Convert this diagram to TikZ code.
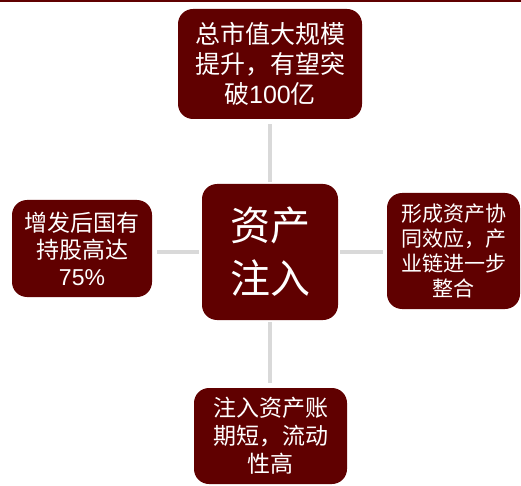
\documentclass[tikz,border=0pt]{standalone}
\usepackage{fontspec}
\setmainfont{Liberation Sans}
\newfontfamily\cjk{Noto Sans CJK SC}
\definecolor{boxred}{RGB}{96,0,0}
\definecolor{conngray}{RGB}{217,217,217}
\tikzset{
  rbox/.style={fill=boxred, draw=none, rounded corners=15pt, text=white, align=center, inner sep=0pt},
  conn/.style={draw=conngray, line width=4.5pt}
}
\begin{document}
\begin{tikzpicture}[x=1pt,y=-1pt]
\useasboundingbox (0,0) rectangle (521,486);
\fill[boxred] (0,0) rectangle (521,2);
\node[rbox, minimum width=184pt, minimum height=110pt, font=\fontsize{25}{30}\selectfont] (top) at (270,64)
  {\cjk 总市值大规模\\\cjk 提升，有望突\\{\cjk 破}100{\cjk 亿}};
\node[rbox, minimum width=136pt, minimum height=136pt, font=\fontsize{40}{53}\selectfont] (ctr) at (270,252)
  {\cjk 资产\\\cjk 注入};
\node[rbox, minimum width=133pt, minimum height=116pt, font=\fontsize{21}{25}\selectfont] (rgt) at (453.5,251)
  {\cjk 形成资产协\\\cjk 同效应，产\\\cjk 业链进一步\\\cjk 整合};
\node[rbox, minimum width=140pt, minimum height=97pt, font=\fontsize{23}{27}\selectfont] (lft) at (82,248.5)
  {\cjk 增发后国有\\\cjk 持股高达\\75\%};
\node[rbox, minimum width=153pt, minimum height=96pt, font=\fontsize{23}{28}\selectfont] (bot) at (270.5,436)
  {\cjk 注入资产账\\\cjk 期短，流动\\\cjk 性高};
\draw[conn, shorten <=5pt, shorten >=2pt] (top.south) -- (ctr.north);
\draw[conn, shorten <=5pt, shorten >=3pt] (lft.east |- ctr.west) -- (ctr.west);
\draw[conn, shorten <=2pt, shorten >=4pt] (ctr.east) -- (ctr.east -| rgt.west);
\draw[conn, shorten <=2pt, shorten >=5pt] (ctr.south) -- (ctr.south |- bot.north);
\end{tikzpicture}
\end{document}
